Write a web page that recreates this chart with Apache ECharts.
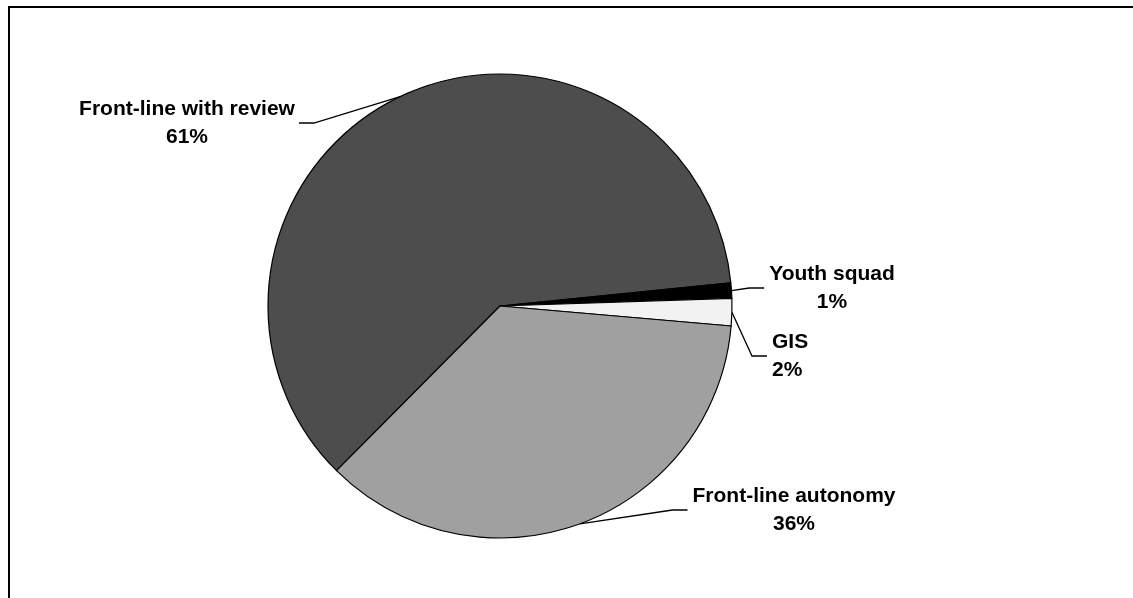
<!DOCTYPE html>
<html>
<head>
<meta charset="utf-8">
<script src="https://cdn.jsdelivr.net/npm/echarts@6/dist/echarts.min.js"></script>
<style>
html,body{margin:0;padding:0;background:#fff;}
#chart{width:1133px;height:598px;}
</style>
</head>
<body>
<div id="chart"></div>
<script>
// Data
const categories = ['Front-line with review', 'Youth squad', 'GIS', 'Front-line autonomy'];
const values = [60.96, 1.07, 1.90, 36.07];
const colors = ['#4d4d4d', '#000000', '#f2f2f2', '#a0a0a0'];

const total = values.reduce((a, b) => a + b, 0);
const CENTER = [500, 306];
const RADIUS = 232;
const START = 225.2;

// label anchor placement (layout only)
const labelPlace = [
  { x: 187, y: 123, align: 'center', side: 'right' },
  { x: 832, y: 288, align: 'center', side: 'left' },
  { x: 772, y: 356, align: 'left', side: 'left' },
  { x: 794, y: 510, align: 'center', side: 'left' }
];

function midPoint(idx) {
  let acc = 0;
  for (let i = 0; i < idx; i++) acc += values[i];
  const mid = START - (acc + values[idx] / 2) / total * 360;
  const rad = mid * Math.PI / 180;
  return [CENTER[0] + RADIUS * Math.cos(rad), CENTER[1] - RADIUS * Math.sin(rad)];
}

const chart = echarts.init(document.getElementById('chart'), null, { renderer: 'canvas' });
const option = {
  animation: false,
  backgroundColor: '#ffffff',
  graphic: [{
    type: 'rect',
    shape: { x: 9, y: 7, width: 1300, height: 800 },
    style: { fill: 'none', stroke: '#000', lineWidth: 2 },
    silent: true
  }],
  series: [{
    type: 'pie',
    center: CENTER,
    radius: RADIUS,
    startAngle: START,
    clockwise: true,
    avoidLabelOverlap: false,
    data: categories.map((c, i) => ({ name: c, value: values[i], itemStyle: { color: colors[i] } })),
    itemStyle: { borderColor: '#000', borderWidth: 1.2 },
    emphasis: { disabled: true },
    label: {
      show: true,
      position: 'outside',
      color: '#000',
      fontFamily: '"Liberation Sans", Arial, sans-serif',
      fontWeight: 'bold',
      fontSize: 21,
      lineHeight: 28,
      formatter: p => p.name + '\n' + Math.round(p.percent) + '%'
    },
    labelLine: {
      show: true,
      lineStyle: { color: '#000', width: 1.3 }
    },
    labelLayout: function (params) {
      const i = params.dataIndex;
      const L = labelPlace[i];
      const w = params.labelRect.width;
      let p0 = (params.labelLinePoints && params.labelLinePoints[0]) || midPoint(i);
      let endX;
      if (L.side === 'right') {
        endX = (L.align === 'center' ? L.x + w / 2 : L.x + w) + 4;
        return {
          x: L.x, y: L.y, align: L.align, verticalAlign: 'middle',
          labelLinePoints: [p0, [endX + 15, L.y], [endX, L.y]]
        };
      } else {
        endX = (L.align === 'center' ? L.x - w / 2 : L.x) - 5;
        return {
          x: L.x, y: L.y, align: L.align, verticalAlign: 'middle',
          labelLinePoints: [p0, [endX - 15, L.y], [endX, L.y]]
        };
      }
    }
  }]
};
chart.setOption(option);
</script>
</body>
</html>
